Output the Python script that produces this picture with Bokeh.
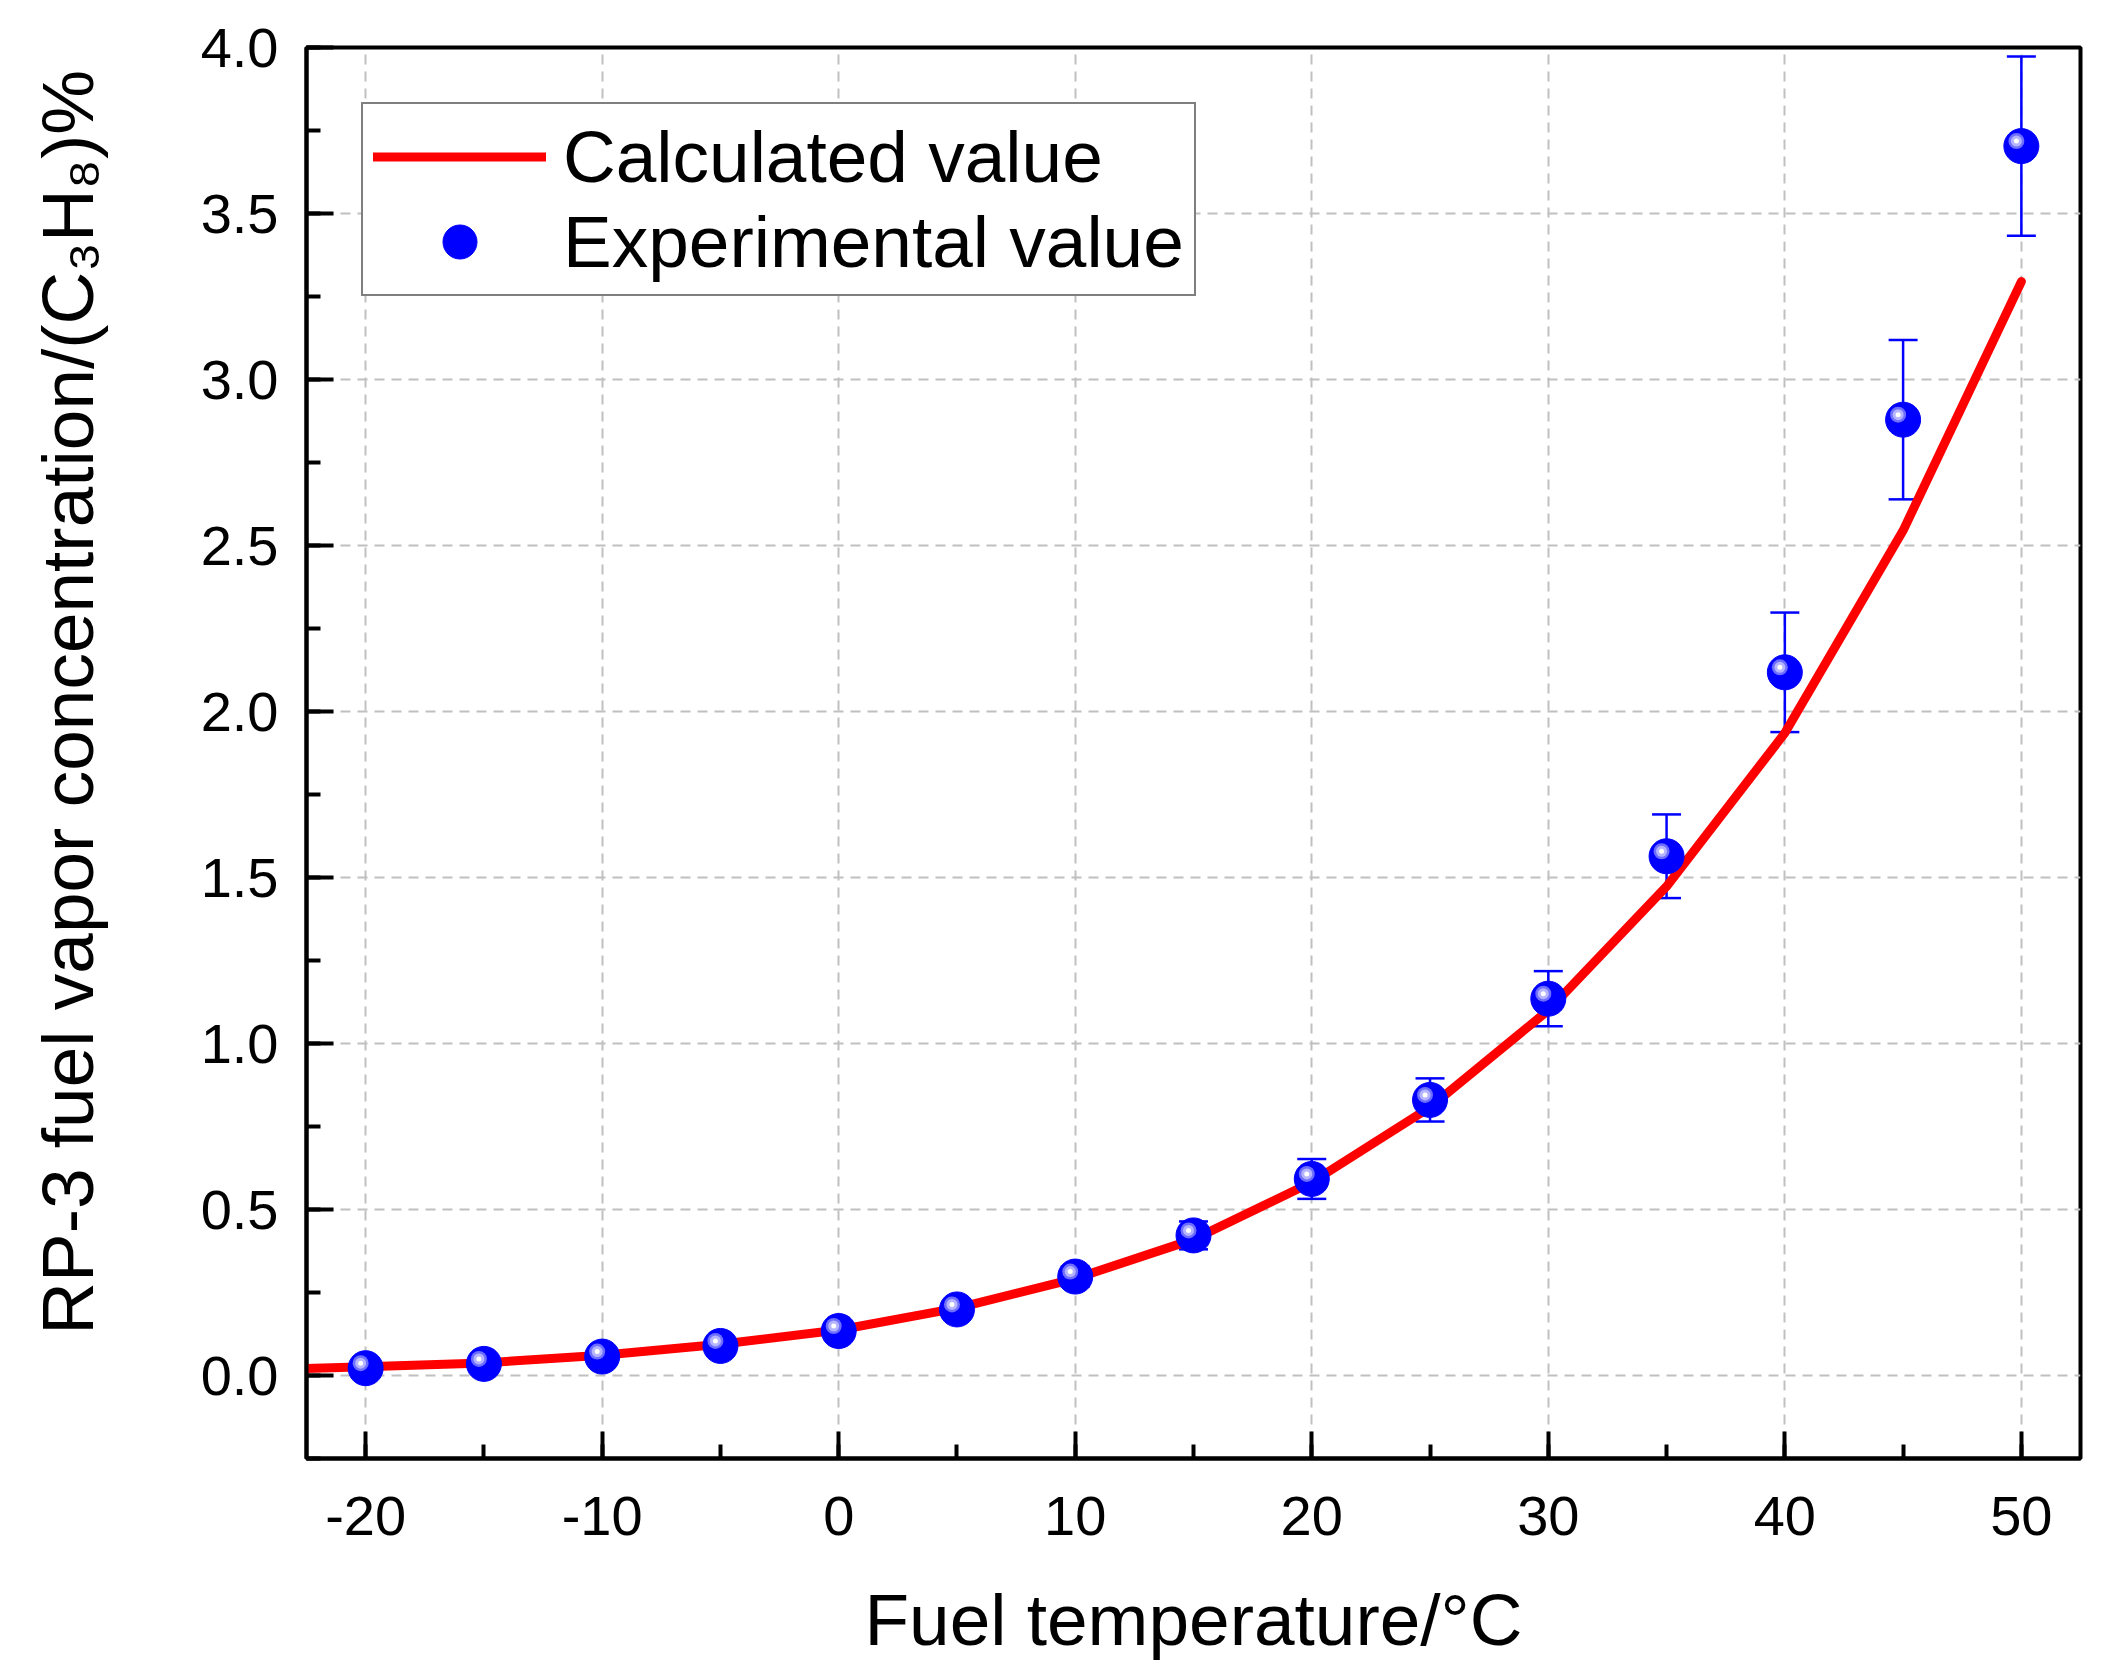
from bokeh.plotting import figure
from bokeh.models import (ColumnDataSource, Whisker, TeeHead, Legend, LegendItem,
                          SingleIntervalTicker, NumeralTickFormatter, PrintfTickFormatter)
from bokeh.transform import dodge
from bokeh.embed import file_html
from bokeh.resources import INLINE

# calculated curve (red line)
calc_temp = [-25, -20, -15, -10, -5, 0, 5, 10, 15, 20, 25, 30, 35, 40, 45, 50]
calc_conc = [0.016, 0.026, 0.038, 0.061, 0.094, 0.137, 0.203, 0.292, 0.410,
             0.582, 0.808, 1.100, 1.473, 1.935, 2.545, 3.295]

# experimental points and their error bars
exp_temp = [-20, -15, -10, -5, 0, 5, 10, 15, 20, 25, 30, 35, 40, 45, 50]
exp_conc = [0.022, 0.035, 0.057, 0.089, 0.134, 0.199, 0.298, 0.422, 0.592,
            0.830, 1.135, 1.564, 2.118, 2.879, 3.703]
exp_err = [0.004, 0.005, 0.008, 0.010, 0.015, 0.020, 0.030, 0.042, 0.060,
           0.065, 0.083, 0.126, 0.180, 0.240, 0.270]

FONT = "Liberation Sans"
X_RANGE = (-22.5, 52.5)
Y_RANGE = (-0.25, 4.0)
FW, FH = 1774, 1411

p = figure(frame_width=FW, frame_height=FH, x_range=X_RANGE, y_range=Y_RANGE,
           output_backend="svg", toolbar_location=None, tools="",
           min_border_left=306, min_border_top=47, min_border_right=12,
           min_border_bottom=190)
p.background_fill_color = "white"
p.border_fill_color = "white"
p.outline_line_color = "black"
p.outline_line_width = 4

# grid
for g in (p.xgrid, p.ygrid):
    g.grid_line_color = "#c0c0c0"
    g.grid_line_width = 2
    g.grid_line_dash = "10 7"

# axes
p.xaxis.ticker = SingleIntervalTicker(interval=10, num_minor_ticks=2)
p.xaxis.formatter = PrintfTickFormatter(format="%d")
p.yaxis.ticker = SingleIntervalTicker(interval=0.5, num_minor_ticks=2)
p.yaxis.formatter = NumeralTickFormatter(format="0.0")
for ax in (p.xaxis[0], p.yaxis[0]):
    ax.axis_line_width = 4
    ax.axis_line_color = "black"
    ax.major_tick_in = 27
    ax.major_tick_out = 0
    ax.minor_tick_in = 14
    ax.minor_tick_out = 0
    ax.major_tick_line_width = 4
    ax.minor_tick_line_width = 4
    ax.major_tick_line_color = "black"
    ax.minor_tick_line_color = "black"
    ax.major_label_text_font = FONT
    ax.major_label_text_font_size = "56px"
    ax.major_label_text_color = "black"
    ax.axis_label_text_font = FONT
    ax.axis_label_text_font_size = "73px"
    ax.axis_label_text_font_style = "normal"
    ax.axis_label_text_color = "black"

p.xaxis.axis_label = "Fuel temperature/°C"
p.xaxis.major_label_standoff = 38
p.xaxis.axis_label_standoff = 41
p.yaxis.axis_label = "\u00a0" * 5 + "RP-3 fuel vapor concentration/(C\u2083H\u2088)%"
p.yaxis.major_label_standoff = 28
p.yaxis.axis_label_standoff = 90

# calculated line
line_src = ColumnDataSource(dict(x=calc_temp, y=calc_conc))
r_line = p.line("x", "y", source=line_src, line_color="red", line_width=9,
                line_cap="round", line_join="round")

# experimental points
src = ColumnDataSource(dict(
    x=exp_temp, y=exp_conc,
    upper=[c + e for c, e in zip(exp_conc, exp_err)],
    lower=[c - e for c, e in zip(exp_conc, exp_err)],
))
p.add_layout(Whisker(source=src, base="x", upper="upper", lower="lower",
                     line_color="blue", line_width=2.5,
                     upper_head=TeeHead(size=29, line_color="blue", line_width=2.5),
                     lower_head=TeeHead(size=29, line_color="blue", line_width=2.5)))

r_pts = p.scatter("x", "y", source=src, size=35, fill_color="#0000ff",
                  line_color="#0000ff", line_width=1)

# little shine on each sphere, shifted up-left by a few pixels
dx = -5 * (X_RANGE[1] - X_RANGE[0]) / FW
dy = 5 * (Y_RANGE[1] - Y_RANGE[0]) / FH
hx, hy = dodge("x", dx), dodge("y", dy)
p.scatter(hx, hy, source=src, size=16, fill_color="#6f6fff", line_color=None)
p.scatter(hx, hy, source=src, size=11, fill_color="#b4b4ff", line_color=None)
p.scatter(hx, hy, source=src, size=5, fill_color="white", line_color=None)

legend = Legend(items=[
    LegendItem(label="Calculated value", renderers=[r_line]),
    LegendItem(label="Experimental value", renderers=[r_pts]),
], location="top_left", margin=55, padding=10, spacing=0,
    glyph_width=173, glyph_height=85, label_height=85, label_standoff=17,
    label_text_font=FONT, label_text_font_size="73px", label_text_color="black",
    border_line_color="black", border_line_width=2,
    background_fill_color="white", background_fill_alpha=1.0)
p.add_layout(legend)

open("out.html", "w").write(file_html(p, INLINE))
